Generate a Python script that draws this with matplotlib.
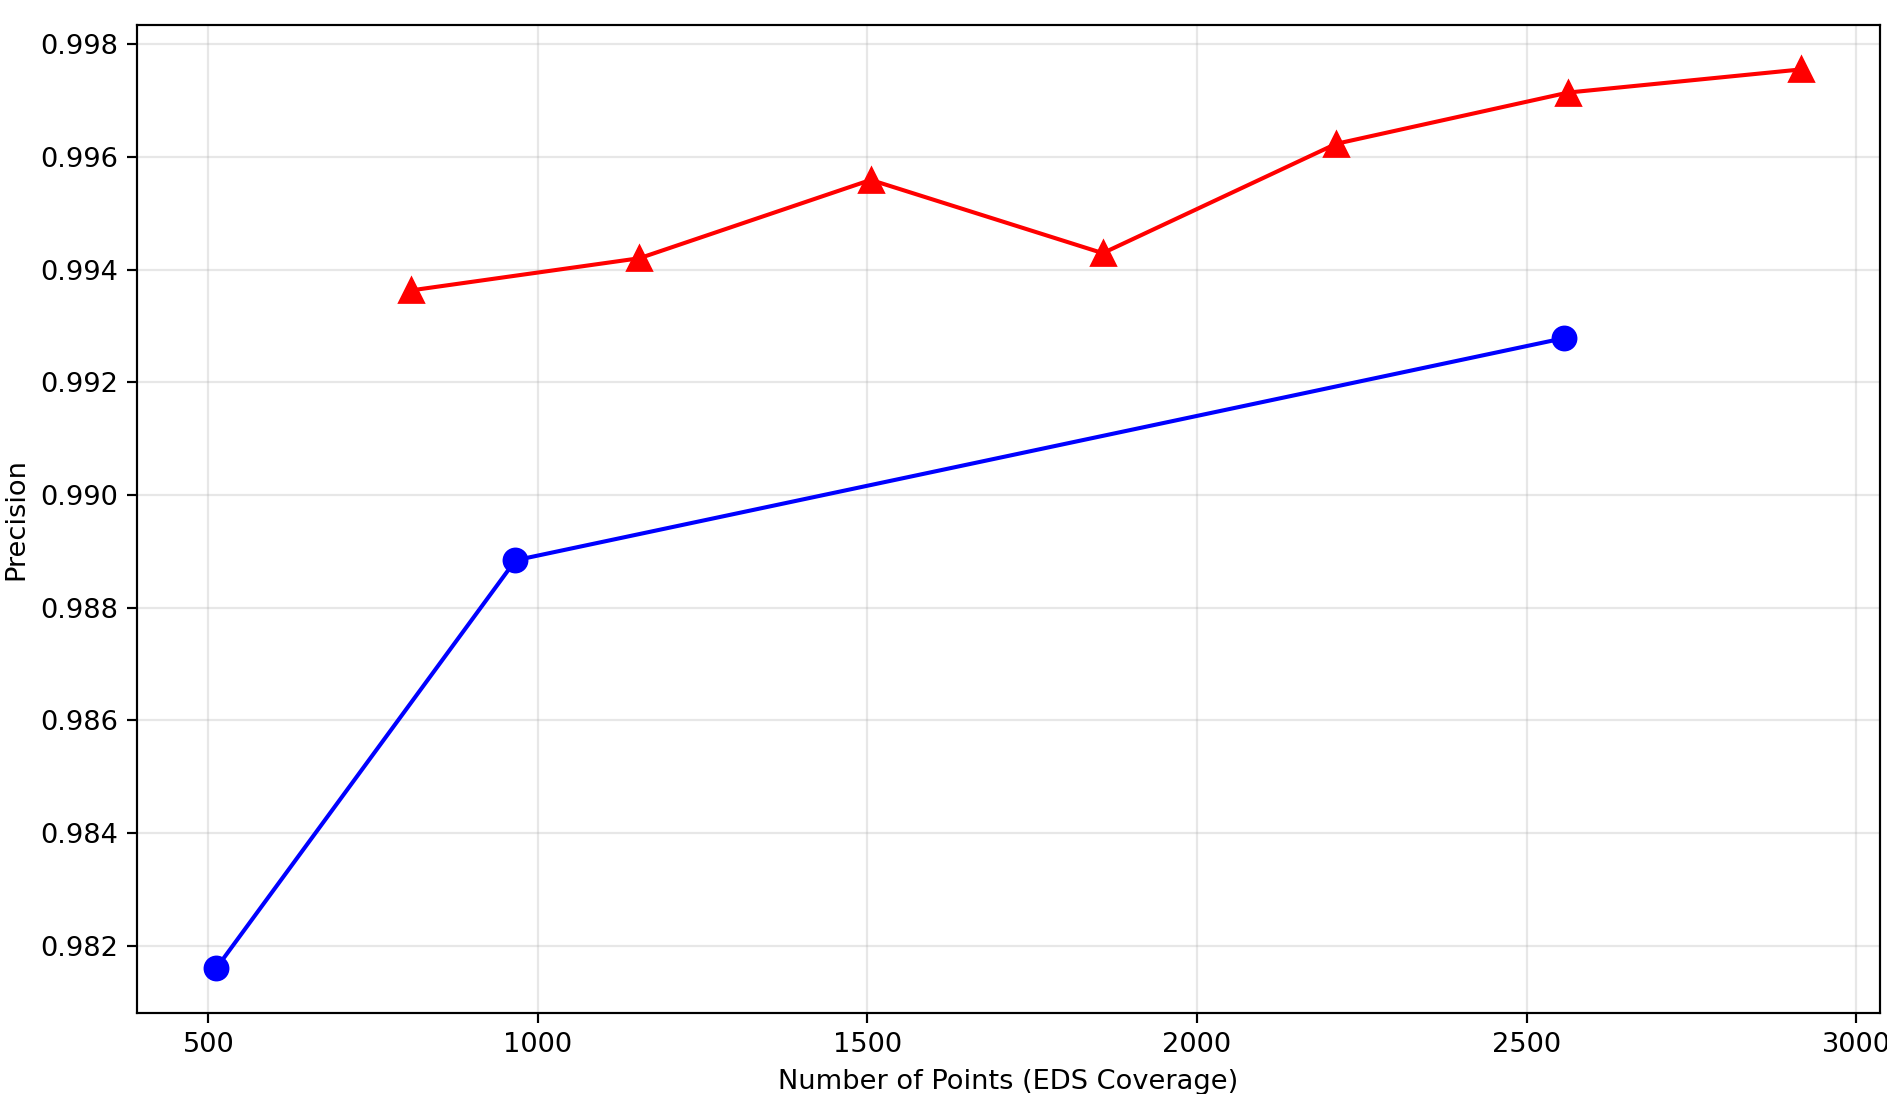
"""Precision vs. number of sampled points for two EDS coverage strategies."""

import matplotlib

matplotlib.use("Agg")
import matplotlib.pyplot as plt

DPI = 196
FIG_W, FIG_H = 1887 / DPI, 1094 / DPI

# Series values
BLUE_POINTS = [512, 966, 2556]
BLUE_PRECISION = [0.98160, 0.98884, 0.99278]

RED_POINTS = [808, 1154, 1505, 1857, 2211, 2563, 2916]
RED_PRECISION = [0.99363, 0.99420, 0.99559, 0.99429, 0.99623, 0.99714, 0.99755]

X_LABEL = "Number of Points (EDS Coverage)"
Y_LABEL = "Precision"


def main() -> None:
    fig = plt.figure(figsize=(FIG_W, FIG_H), dpi=DPI)
    ax = fig.add_axes([0.0726, 0.0738, 0.9237, 0.9038])

    ax.plot(BLUE_POINTS, BLUE_PRECISION, color="blue", marker="o", markersize=8.5)
    ax.plot(RED_POINTS, RED_PRECISION, color="red", marker="^", markersize=8.5)

    ax.set_xlabel(X_LABEL)
    ax.set_ylabel(Y_LABEL)
    ax.grid(True, alpha=0.3)

    fig.savefig("out.png", dpi=DPI)
    plt.close(fig)


if __name__ == "__main__":
    main()
